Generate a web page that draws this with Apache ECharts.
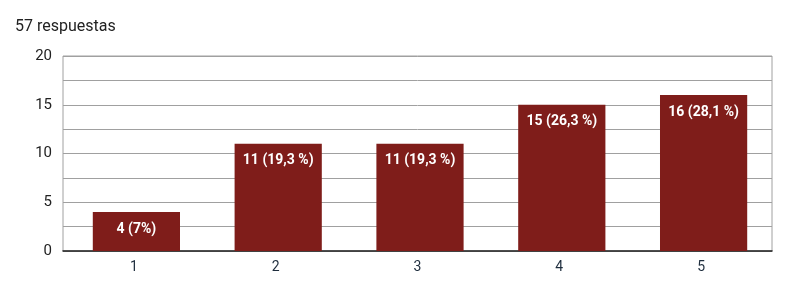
<!DOCTYPE html>
<html><head><meta charset="utf-8">
<script src="https://cdn.jsdelivr.net/npm/echarts@6/dist/echarts.min.js"></script>
<style>html,body{margin:0;padding:0;background:#fff}#c{width:791px;height:290px}</style>
</head><body><div id="c"></div>
<script>
const title = '57 respuestas';
const categories = ['1', '2', '3', '4', '5'];
const counts = [4, 11, 11, 15, 16];
const barLabels = ['4 (7%)', '11 (19,3 %)', '11 (19,3 %)', '15 (26,3 %)', '16 (28,1 %)'];
const yTicks = [0, 5, 10, 15, 20];

const FONT = "'Roboto', sans-serif";
const yMin = yTicks[0], yMax = yTicks[yTicks.length - 1];
const chart = echarts.init(document.getElementById('c'));
chart.setOption({
  animation: false,
  title: { text: title, left: 10, top: 14, textStyle: { fontFamily: FONT, fontSize: 16, fontWeight: 'normal', color: '#222' } },
  grid: [
    { left: 63, right: 19, top: 56, bottom: 39, show: true, borderColor: '#a0a0a0', borderWidth: 1 },
    { left: 65.5, right: 16.5, top: 56, bottom: 39 }
  ],
  xAxis: [{
    type: 'category', data: categories, gridIndex: 0,
    axisLine: { lineStyle: { color: '#222', width: 1.5 } },
    axisTick: { show: false },
    axisLabel: { fontFamily: FONT, fontSize: 14, color: '#1e2d3d', margin: 9 }
  }, {
    type: 'category', data: categories, gridIndex: 1, show: false
  }],
  yAxis: [{
    type: 'value', min: yMin, max: yMax, interval: 5, gridIndex: 0,
    axisLine: { show: false }, axisTick: { show: false },
    axisLabel: { fontFamily: FONT, fontSize: 15, color: '#222', margin: 11 },
    splitLine: { lineStyle: { color: '#a0a0a0', width: 1 } },
    minorTick: { show: false, splitNumber: 2 },
    minorSplitLine: { show: true, lineStyle: { color: '#a0a0a0', width: 1 } }
  }, {
    type: 'value', min: yMin, max: yMax, interval: 5, gridIndex: 1, show: false,
    splitLine: { show: false }
  }],
  series: [{
    type: 'bar', data: counts, barWidth: '61.5%', xAxisIndex: 1, yAxisIndex: 1,
    itemStyle: { color: '#7f1d1a' },
    label: {
      show: true, position: 'insideTop', distance: 10,
      formatter: p => barLabels[p.dataIndex],
      color: '#fff', fontFamily: FONT, fontWeight: 'bold', fontSize: 14
    }
  }]
});
</script></body></html>
